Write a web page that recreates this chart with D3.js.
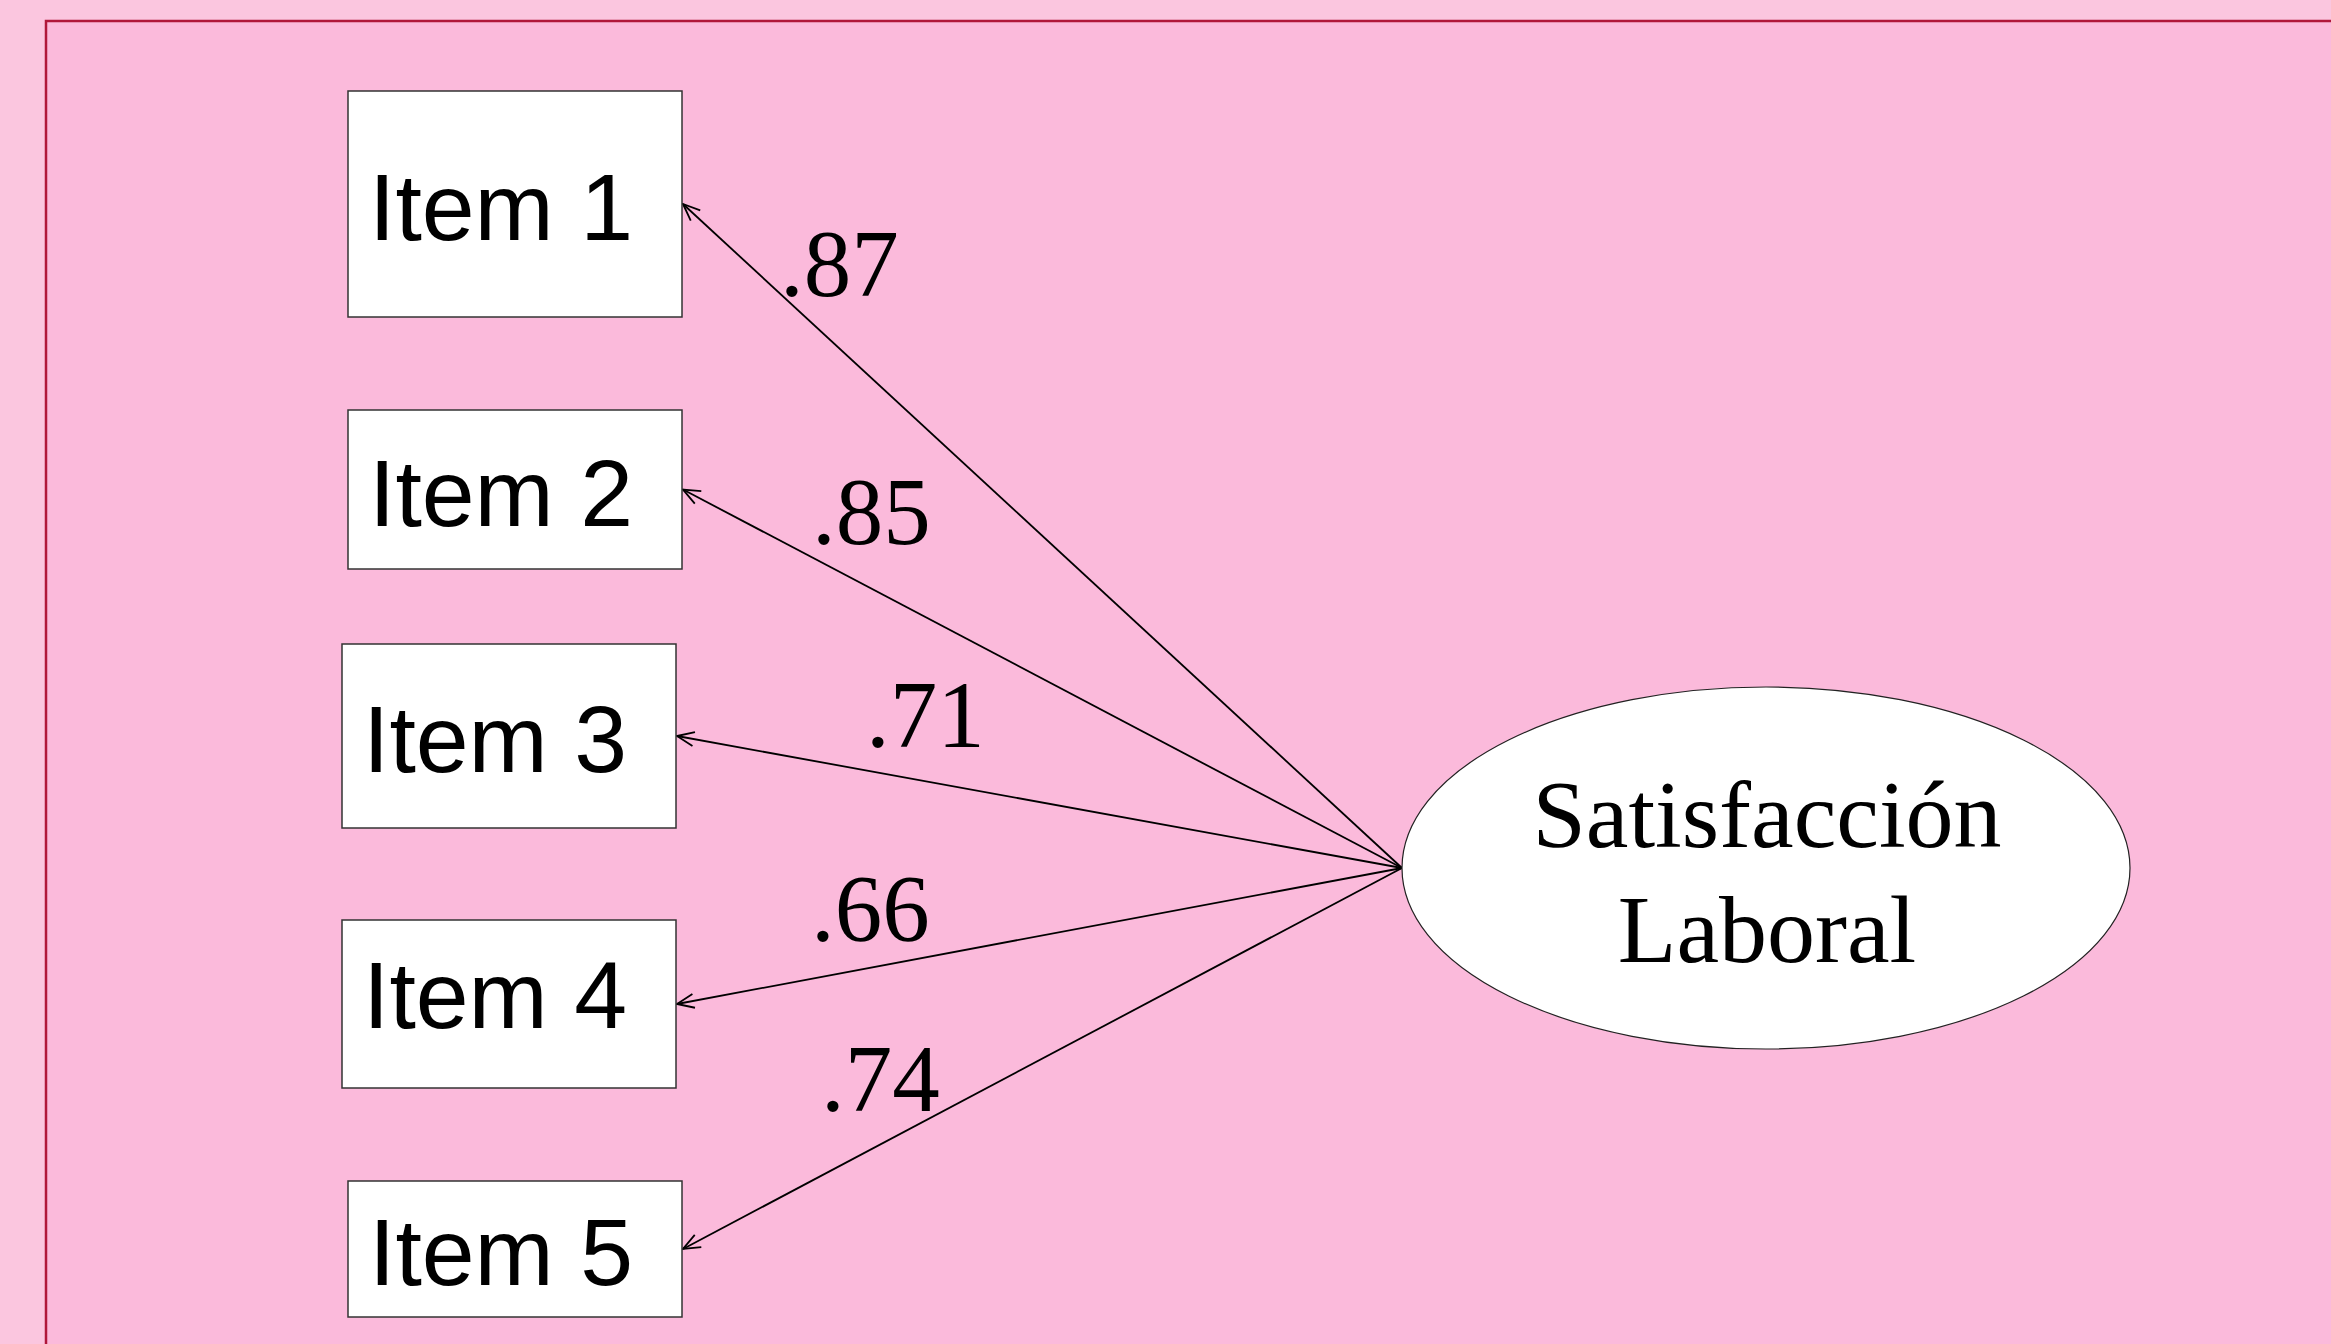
<!DOCTYPE html>
<html>
<head>
<meta charset="utf-8">
<script src="https://cdn.jsdelivr.net/npm/d3@7"></script>
<style>
  html, body { margin: 0; padding: 0; background: #fbc6df; overflow: hidden; }
  svg { display: block; }
</style>
</head>
<body>
<svg id="chart" width="2331" height="1344"></svg>
<script>
// ---- data ----
const items = ["Item 1", "Item 2", "Item 3", "Item 4", "Item 5"];
const loadings = [0.87, 0.85, 0.71, 0.66, 0.74];
const factorLines = ["Satisfacción", "Laboral"];

// ---- layout (geometry, separate from data) ----
const boxLayout = [
  { x: 348, y: 91,  w: 334, h: 226, ty: 36 },
  { x: 348, y: 410, w: 334, h: 159, ty: 36 },
  { x: 342, y: 644, w: 334, h: 184, ty: 36 },
  { x: 342, y: 920, w: 334, h: 168, ty: 24 },
  { x: 348, y: 1181, w: 334, h: 136, ty: 36 }
];
const labelLayout = [
  { x: 780, y: 296 },
  { x: 812, y: 544 },
  { x: 866, y: 747 },
  { x: 811, y: 941 },
  { x: 821, y: 1111 }
];
const ellipse = { cx: 1766, cy: 868, rx: 364, ry: 181 };

const svg = d3.select("#chart");

// background
svg.append("rect").attr("x", 0).attr("y", 0).attr("width", 2331).attr("height", 1344).attr("fill", "#fbc6df");
svg.append("rect").attr("x", 46).attr("y", 21).attr("width", 2331).attr("height", 1400)
  .attr("fill", "#fbbadb").attr("stroke", "#b0173a").attr("stroke-width", 2.5);

// arrow marker
const defs = svg.append("defs");
defs.append("marker")
  .attr("id", "arrow")
  .attr("viewBox", "0 0 20 20")
  .attr("refX", 19).attr("refY", 10)
  .attr("markerWidth", 20).attr("markerHeight", 20)
  .attr("markerUnits", "userSpaceOnUse")
  .attr("orient", "auto")
  .append("path")
  .attr("d", "M2,3 L19,10 L2,17")
  .attr("fill", "none").attr("stroke", "#000").attr("stroke-width", 1.8);

const fmt = v => d3.format(".2f")(v).replace(/^0/, "");

const nodes = items.map((name, i) => ({ name, loading: loadings[i], box: boxLayout[i], lab: labelLayout[i] }));

// paths
const originX = ellipse.cx - ellipse.rx;
const originY = ellipse.cy;
svg.append("g").selectAll("line").data(nodes).join("line")
  .attr("x1", originX).attr("y1", originY)
  .attr("x2", d => d.box.x + d.box.w + 1)
  .attr("y2", d => d.box.y + d.box.h / 2)
  .attr("stroke", "#000").attr("stroke-width", 1.8)
  .attr("marker-end", "url(#arrow)");

// boxes
const g = svg.append("g").selectAll("g").data(nodes).join("g");
g.append("rect")
  .attr("x", d => d.box.x).attr("y", d => d.box.y)
  .attr("width", d => d.box.w).attr("height", d => d.box.h)
  .attr("fill", "#fff").attr("stroke", "#333").attr("stroke-width", 1.5);
g.append("text")
  .attr("x", d => d.box.x + 21)
  .attr("y", d => d.box.y + d.box.h / 2 + d.box.ty)
  .attr("font-family", "Liberation Sans, Arial, sans-serif")
  .attr("font-size", 95)
  .attr("fill", "#000")
  .text(d => d.name);

// loading labels
svg.append("g").selectAll("text").data(nodes).join("text")
  .attr("x", d => d.lab.x).attr("y", d => d.lab.y)
  .attr("font-family", "Liberation Serif, Times New Roman, serif")
  .attr("font-size", 95)
  .attr("fill", "#000")
  .text(d => fmt(d.loading));

// latent factor ellipse
svg.append("ellipse")
  .attr("cx", ellipse.cx).attr("cy", ellipse.cy)
  .attr("rx", ellipse.rx).attr("ry", ellipse.ry)
  .attr("fill", "#fff").attr("stroke", "#222").attr("stroke-width", 1.2);
svg.append("g").selectAll("text").data(factorLines).join("text")
  .attr("x", ellipse.cx + 1)
  .attr("y", (d, i) => 847 + i * 115)
  .attr("text-anchor", "middle")
  .attr("font-family", "Liberation Serif, Times New Roman, serif")
  .attr("font-size", 96)
  .attr("fill", "#000")
  .text(d => d);
</script>
</body>
</html>
